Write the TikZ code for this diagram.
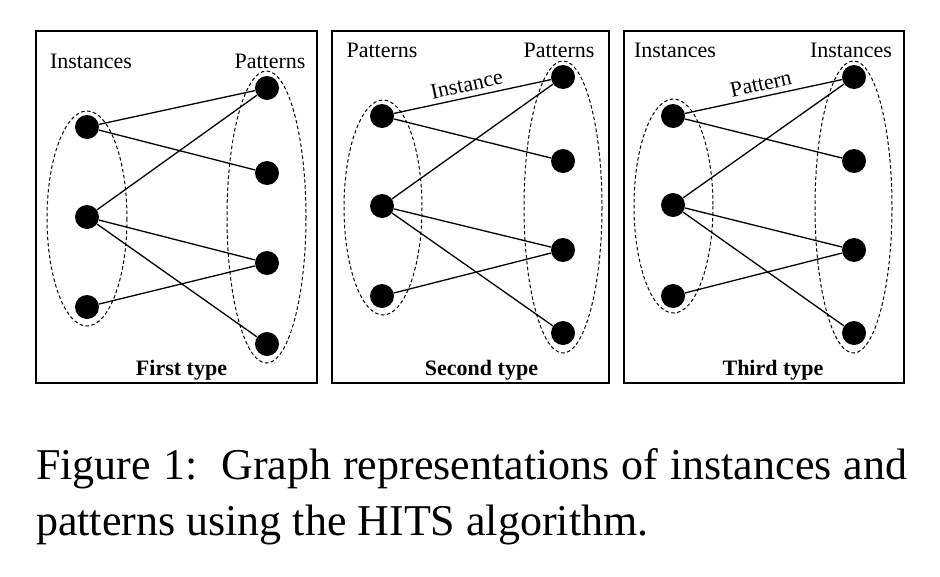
\documentclass[tikz,border=0pt]{standalone}
\usepackage{fontspec}
\setmainfont{Liberation Serif}
\usetikzlibrary{positioning}

\begin{document}
\begin{tikzpicture}[x=1pt, y=-1pt, v/.style={circle, fill=black, minimum size=24pt, inner sep=0pt}, lbl/.style={anchor=base, inner sep=0pt, font=\fontsize{22}{26}\selectfont}, tp/.style={lbl, font=\fontsize{22}{26}\selectfont\bfseries}, el/.style={pos=#1, sloped, above, inner sep=5pt, font=\fontsize{22}{26}\selectfont}, grp/.style={line width=1pt, dash pattern=on 3.5pt off 2.5pt}, box/.style={line width=1.3pt}, every edge/.style={draw, line width=1.3pt}]
		\useasboundingbox (0,0) rectangle (940,576);

		% first type
		\draw[box] (36,31) rectangle (317,383);
		\draw[grp] (87,218.5) ellipse [x radius=40, y radius=107.5];
		\draw[grp] (266.5,217) ellipse [x radius=39.5, y radius=146];
		\node[v] (fl1) at (87,127) {};
		\node[v] (fl2) at (87,217) {};
		\node[v] (fl3) at (87,307) {};
		\node[v] (fr1) at (267,88) {};
		\node[v] (fr2) at (267,173) {};
		\node[v] (fr3) at (267,263) {};
		\node[v] (fr4) at (267,344) {};
		\node[lbl] (fl_label) at (91,68) {Instances};
		\node[lbl] (fr_label) at (270,68) {Patterns};
		\node[tp] (f_type) at (181.5,375) {First type};

		\path (fl1) edge (fr1);
		\path (fl1) edge (fr2);
		\path (fl2) edge (fr1);
		\path (fl2) edge (fr3);
		\path (fl2) edge (fr4);
		\path (fl3) edge (fr3);

		% second type
		\draw[box] (332,31) rectangle (609,383);
		\draw[grp] (383,207.5) ellipse [x radius=39, y radius=107.5];
		\draw[grp] (563,207) ellipse [x radius=39, y radius=146];
		\node[v] (sl1) at (382,116) {};
		\node[v] (sl2) at (382,206) {};
		\node[v] (sl3) at (382,296) {};
		\node[v] (sr1) at (563,77) {};
		\node[v] (sr2) at (563,161) {};
		\node[v] (sr3) at (563,250) {};
		\node[v] (sr4) at (563,333) {};
		\node[lbl] (sl_label) at (382,57.5) {Patterns};
		\node[lbl] (sr_label) at (559,57.5) {Patterns};
		\node[tp] (s_type) at (481.5,375) {Second type};

		\path (sl1) edge node[el=.48] (s_edge) {Instance} (sr1);
		\path (sl1) edge (sr2);
		\path (sl2) edge (sr1);
		\path (sl2) edge (sr3);
		\path (sl2) edge (sr4);
		\path (sl3) edge (sr3);

		% third type
		\draw[box] (624,31) rectangle (904,383);
		\draw[grp] (673.5,206) ellipse [x radius=39.5, y radius=107];
		\draw[grp] (853.5,207) ellipse [x radius=38.5, y radius=146];
		\node[v] (tl1) at (673,116) {};
		\node[v] (tl2) at (673,205) {};
		\node[v] (tl3) at (673,296) {};
		\node[v] (tr1) at (854,77) {};
		\node[v] (tr2) at (854,161) {};
		\node[v] (tr3) at (854,250) {};
		\node[v] (tr4) at (854,333) {};
		\node[lbl] (tl_label) at (675,57.5) {Instances};
		\node[lbl] (tr_label) at (851,57.5) {Instances};
		\node[tp] (t_type) at (773,375) {Third type};

		\path (tl1) edge node[el=.5] (t_edge) {Pattern} (tr1);
		\path (tl1) edge (tr2);
		\path (tl2) edge (tr1);
		\path (tl2) edge (tr3);
		\path (tl2) edge (tr4);
		\path (tl3) edge (tr3);

		% caption
		\node[anchor=base west, inner sep=0pt, font=\fontsize{44}{52}\selectfont] (cap1) at (36,479) {\makebox[871pt][s]{Figure 1:\ \ Graph representations of instances and}};
		\node[anchor=base west, inner sep=0pt, font=\fontsize{44}{52}\selectfont] (cap2) at (36,535) {patterns using the HITS algorithm.};
	\end{tikzpicture}
\end{document}
